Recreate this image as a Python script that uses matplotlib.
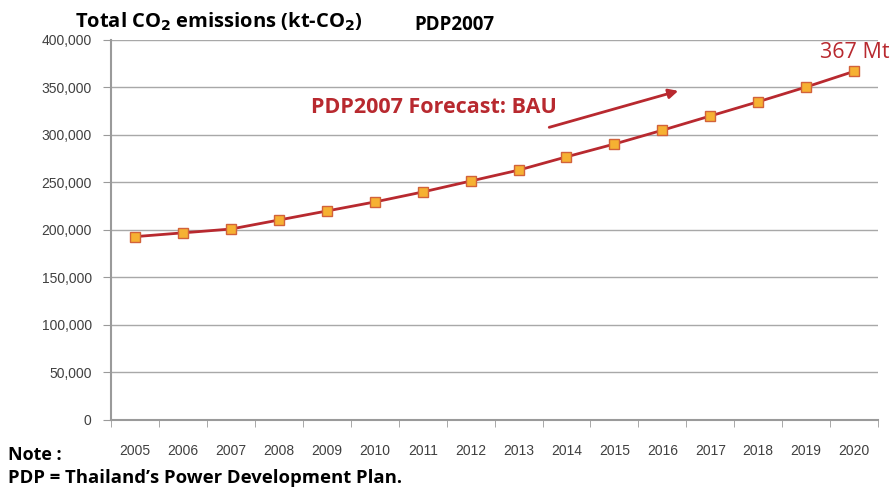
import matplotlib.pyplot as plt
from matplotlib.ticker import FuncFormatter, MultipleLocator

# data (kt-CO2)
years = [str(y) for y in range(2005, 2021)]
emissions = [193000, 197000, 201000, 210500, 220000, 229500, 240000, 251500,
             263000, 277000, 290500, 305000, 320000, 335000, 350500, 367000]

red = "#B8292F"
grey = "#9A9A9A"
tick_font = ["Liberation Sans Narrow", "Liberation Sans", "DejaVu Sans"]

fig = plt.figure(figsize=(8.96, 4.87), dpi=100)
ax = fig.add_axes([0.124, 0.1376, 0.856, 0.7803])

x = list(range(len(years)))
ax.plot(x, emissions, color=red, lw=2, marker="s", ms=7,
        mfc="#F6B132", mec="#D2623A", mew=1, zorder=3)

ax.set_xlim(-0.5, len(years) - 0.5)
ax.set_ylim(0, 400000)
ax.yaxis.set_major_locator(MultipleLocator(50000))
ax.yaxis.set_major_formatter(FuncFormatter(lambda v, p: f"{int(v):,}"))
ax.grid(axis="y", color="#A8A8A8", lw=1)
ax.set_axisbelow(True)

# category axis: labels at centres, ticks at boundaries
ax.set_xticks(x)
ax.set_xticklabels(years)
ax.set_xticks([i - 0.5 for i in range(len(years) + 1)], minor=True)
ax.tick_params(axis="x", which="major", length=0, pad=17)
ax.tick_params(axis="x", which="minor", length=5, color=grey)
ax.tick_params(axis="y", length=6, color=grey, pad=8)
for lab in ax.get_xticklabels() + ax.get_yticklabels():
    lab.set_family(tick_font)
    lab.set_fontsize(10)
    lab.set_color("#404040")

for s in ["top", "right"]:
    ax.spines[s].set_visible(False)
for s in ["left", "bottom"]:
    ax.spines[s].set_color(grey)
    ax.spines[s].set_linewidth(1.5)

bold = dict(family=["Open Sans", "DejaVu Sans"], fontweight="bold")
fig.text(0.084, 0.955, r"Total CO$_\mathbf{2}$ emissions (kt-CO$_\mathbf{2}$)",
         fontsize=14.5, va="center", **bold)
fig.text(0.463, 0.948, "PDP2007", fontsize=13.5, va="center", **bold)
fig.text(0.347, 0.78, "PDP2007 Forecast: BAU", fontsize=15.5, color=red,
         va="center", **bold)
fig.text(0.915, 0.893, "367 Mt", fontsize=15.5, color=red, va="center",
         family=["Open Sans", "DejaVu Sans"])
fig.text(0.009, 0.065, "Note :", fontsize=13, va="center", **bold)
fig.text(0.009, 0.018, "PDP = Thailand\u2019s Power Development Plan.",
         fontsize=13.3, va="center", **bold)

ax.annotate("", xy=(0.760, 0.815), xytext=(0.610, 0.737),
            xycoords="figure fraction", textcoords="figure fraction",
            arrowprops=dict(arrowstyle="-|>", color=red, lw=2,
                            mutation_scale=14))

fig.savefig("out.png", dpi=100)
